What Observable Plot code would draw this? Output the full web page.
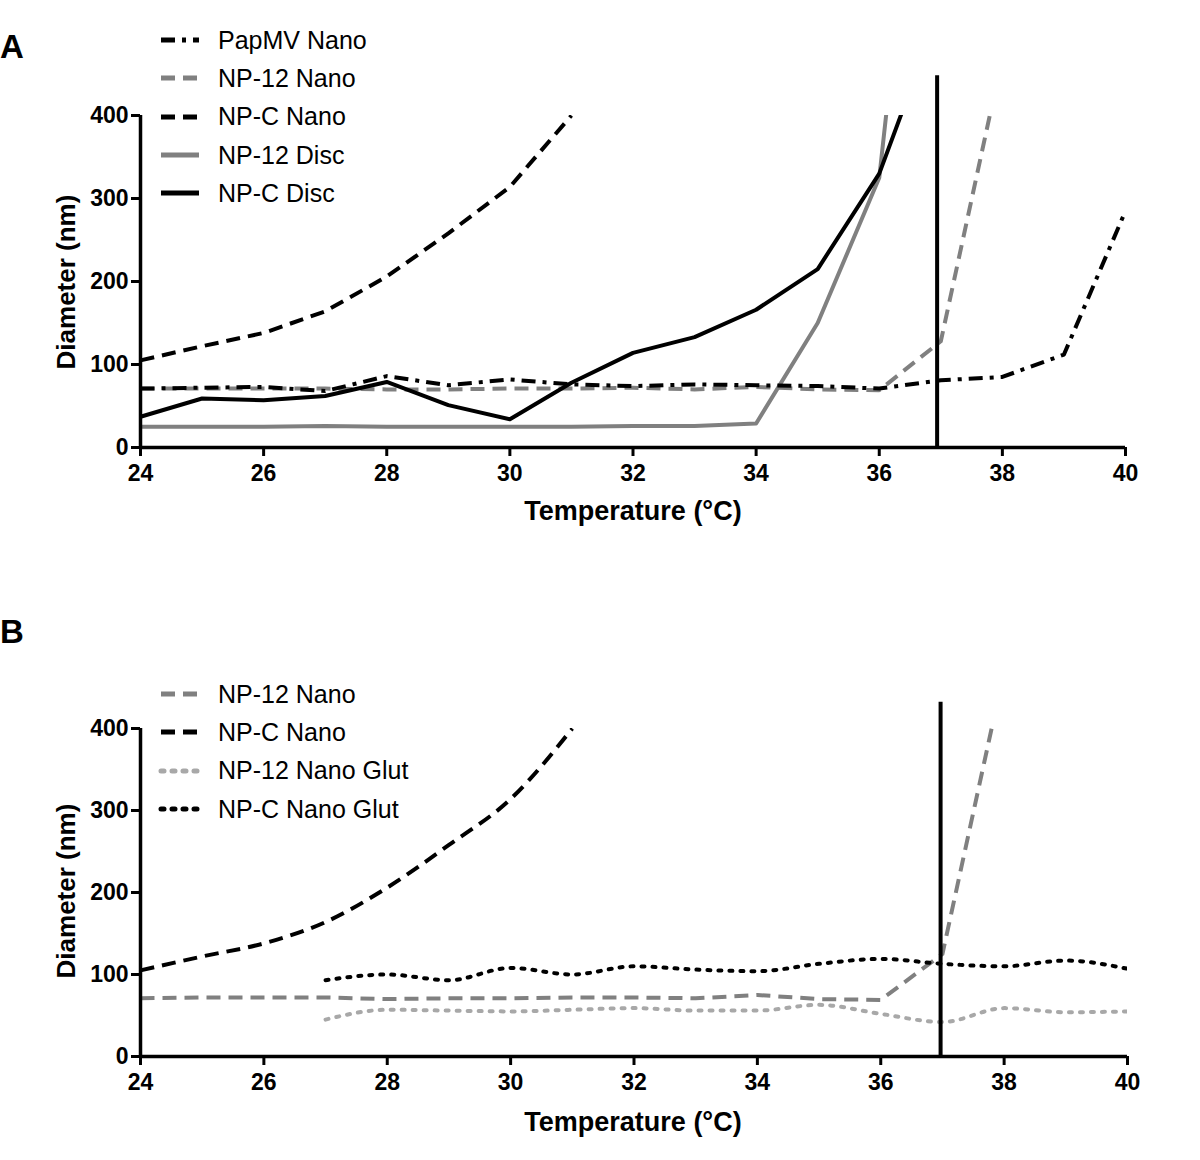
<!DOCTYPE html>
<html><head><meta charset="utf-8">
<script src="https://cdn.jsdelivr.net/npm/d3@7"></script>
<script src="https://cdn.jsdelivr.net/npm/@observablehq/plot@0.6"></script>
<style>
body{margin:0;background:#fff;font-family:"Liberation Sans",Arial,sans-serif;color:#000}
#root{position:relative;width:1200px;height:1160px;overflow:hidden;background:#fff}
.panel{position:absolute;left:0;width:1200px}
.plabel{position:absolute;left:0;font-weight:bold;font-size:33px;line-height:1}
.legend{position:absolute;left:160px}
.legend .row{display:flex;align-items:center;height:38.3px;font-size:25px;white-space:nowrap}
.legend svg{width:40px;height:10px;margin-right:18px;overflow:visible}
.xtitle{position:absolute;font-weight:bold;font-size:27px;transform:translateX(-50%);white-space:nowrap;line-height:1}
.ytitle{position:absolute;font-weight:bold;font-size:26px;transform:translate(-50%,-50%) rotate(-90deg);white-space:nowrap;line-height:1}
</style>
</head><body>
<div id="root"></div>
<script>
// ---------------- data ----------------
const temps = [24,25,26,27,28,29,30,31,32,33,34,35,36,37,38,39,40];

// Panel A
const papmvNanoA = [71,72,73,68,86,75,82,76,74,76,75,74,71,81,85,112,285];
const np12NanoA  = [71,71,71,71,70,70,71,71,72,70,73,70,69,128,470];
const npcNanoA   = [105,122,138,164,206,258,314,400];
const np12DiscA  = [25,25,25,26,25,25,25,25,26,26,29,150,325,1000];
const npcDiscA   = [37,59,57,62,79,51,34,78,114,133,166,215,330,530];

// Panel B
const np12NanoB     = [71,72,72,72,70,71,71,72,72,71,75,70,69,125,470];
const npcNanoB      = [105,122,138,164,206,258,314,400];
const gluTemps      = [27,28,29,30,31,32,33,34,35,36,37,38,39,40];
const np12NanoGlutB = [45,57,56,55,57,59,56,56,63,52,42,59,54,55];
const npcNanoGlutB  = [93,100,93,108,100,110,106,104,113,119,113,110,117,107];

const markerTempA = 36.94;
const markerTempB = 36.97;
const markerTopA = 448;
const markerTopB = 432;

const xTicks = [24,26,28,30,32,34,36,38,40];
const yTicks = [0,100,200,300,400];

const legendA = ["PapMV Nano","NP-12 Nano","NP-C Nano","NP-12 Disc","NP-C Disc"];
const legendB = ["NP-12 Nano","NP-C Nano","NP-12 Nano Glut","NP-C Nano Glut"];

// ---------------- styles ----------------
const BLACK = "#000000", GRAY = "#808080", LGRAY = "#a8a8a8";
const styles = {
  "PapMV Nano":     {stroke: BLACK, dash: "14,7,4,7", cap: "butt"},
  "NP-12 Nano":     {stroke: GRAY,  dash: "14,8", cap: "butt"},
  "NP-C Nano":      {stroke: BLACK, dash: "14,8", cap: "butt"},
  "NP-12 Disc":     {stroke: GRAY,  dash: null, cap: "butt"},
  "NP-C Disc":      {stroke: BLACK, dash: null, cap: "butt"},
  "NP-12 Nano Glut":{stroke: LGRAY, dash: "3,8", cap: "round"},
  "NP-C Nano Glut": {stroke: BLACK, dash: "3,8", cap: "round"}
};

const series = (name, xs, ys) => ys.map((v, i) => ({t: xs[i], d: v, name}));

function lineMark(name, xs, ys, curve) {
  const s = styles[name];
  return Plot.line(series(name, xs, ys), {
    x: "t", y: "d", stroke: s.stroke, strokeWidth: 4,
    strokeDasharray: s.dash || undefined, strokeLinecap: s.cap,
    strokeLinejoin: "round", curve: curve || "linear", clip: true
  });
}

function axes(markerTemp, markerTop) {
  return [
    Plot.axisX({ticks: xTicks, tickSize: 9, tickPadding: 8, strokeWidth: 3,
      fontSize: 23, fontWeight: "bold", label: null, tickFormat: d => d}),
    Plot.axisY({ticks: yTicks, tickSize: 9, tickPadding: 3, strokeWidth: 3,
      fontSize: 23, fontWeight: "bold", label: null, tickFormat: d => d}),
    Plot.ruleY([0], {stroke: BLACK, strokeWidth: 3.5}),
    Plot.ruleX([24], {stroke: BLACK, strokeWidth: 3.5}),
    Plot.ruleX([markerTemp], {y1: 0, y2: markerTop, stroke: BLACK, strokeWidth: 4})
  ];
}

const root = document.getElementById("root");

function addPanel(top, height, mt, mb, mr, marks) {
  const chart = Plot.plot({
    width: 1200, height,
    marginLeft: 140, marginRight: mr, marginTop: mt, marginBottom: mb,
    x: {domain: [24, 40]},
    y: {domain: [0, 400]},
    style: {fontFamily: '"Liberation Sans", Arial, sans-serif', color: "#000", background: "transparent", overflow: "visible"},
    marks
  });
  chart.classList.add("panel");
  chart.style.top = top + "px";
  root.appendChild(chart);
}

// Panel A
addPanel(0, 540, 115, 93, 75, [
  lineMark("NP-12 Disc", temps, np12DiscA),
  lineMark("NP-12 Nano", temps, np12NanoA),
  lineMark("PapMV Nano", temps, papmvNanoA),
  lineMark("NP-C Disc", temps, npcDiscA),
  lineMark("NP-C Nano", temps, npcNanoA),
  ...axes(markerTempA, markerTopA)
]);

// Panel B
addPanel(580, 580, 148, 104, 73, [
  lineMark("NP-12 Nano Glut", gluTemps, np12NanoGlutB, "monotone-x"),
  lineMark("NP-12 Nano", temps, np12NanoB),
  lineMark("NP-C Nano Glut", gluTemps, npcNanoGlutB, "monotone-x"),
  lineMark("NP-C Nano", temps, npcNanoB, "monotone-x"),
  ...axes(markerTempB, markerTopB)
]);

// Text overlays
function addDiv(cls, text, css) {
  const d = document.createElement("div");
  d.className = cls; d.textContent = text;
  Object.assign(d.style, css);
  root.appendChild(d);
  return d;
}
addDiv("plabel", "A", {top: "30px"});
addDiv("plabel", "B", {top: "615px"});
addDiv("xtitle", "Temperature (°C)", {left: "633px", top: "498px"});
addDiv("xtitle", "Temperature (°C)", {left: "633px", top: "1109px"});
addDiv("ytitle", "Diameter (nm)", {left: "66px", top: "282px"});
addDiv("ytitle", "Diameter (nm)", {left: "66px", top: "891px"});

function addLegend(names, top) {
  const lg = document.createElement("div");
  lg.className = "legend"; lg.style.top = top + "px";
  for (const n of names) {
    const s = styles[n];
    const row = document.createElement("div");
    row.className = "row";
    row.innerHTML = `<svg viewBox="0 0 40 10"><line x1="1" y1="5" x2="39" y2="5" stroke="${s.stroke}" stroke-width="5" ${s.dash ? `stroke-dasharray="${s.dash}"` : ""} stroke-linecap="${s.cap}"/></svg><span>${n}</span>`;
    lg.appendChild(row);
  }
  root.appendChild(lg);
}
addLegend(legendA, 21);
addLegend(legendB, 675);
</script>
</body></html>
